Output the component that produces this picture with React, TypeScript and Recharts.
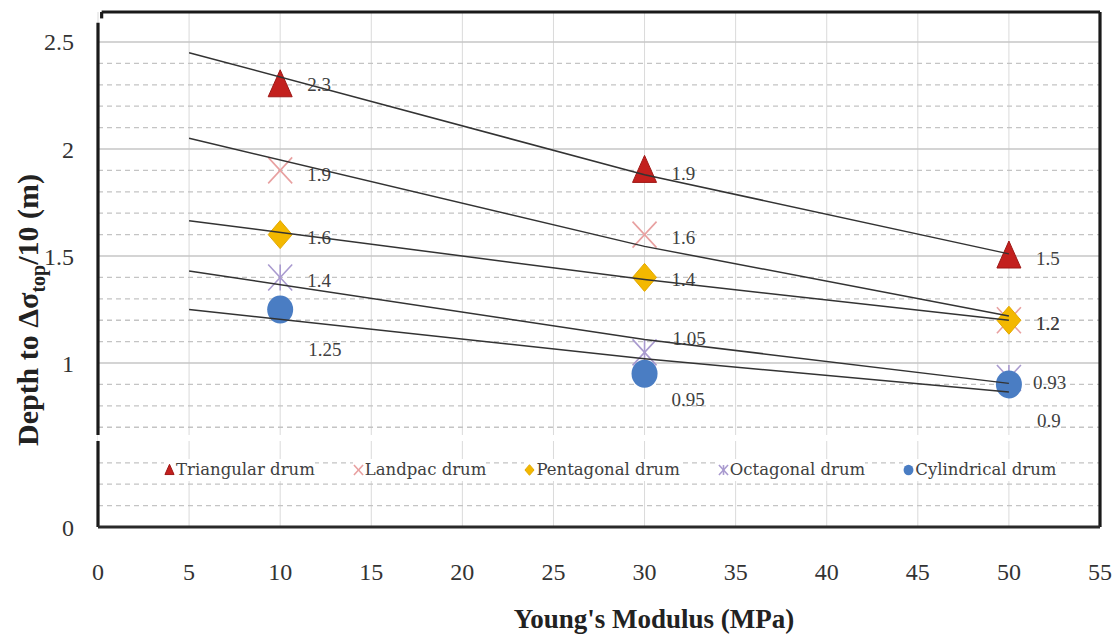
import React from 'react';
import {
  ScatterChart,
  Scatter,
  XAxis,
  YAxis,
  CartesianGrid,
  ReferenceLine,
  ReferenceArea,
  Legend,
  Label,
} from 'recharts';

// ---------- data ----------
const MODULUS = [10, 30, 50];
const SERIES_NAMES = ['Triangular drum', 'Landpac drum', 'Pentagonal drum', 'Octagonal drum', 'Cylindrical drum'];
const TRIANGULAR = [2.3, 1.9, 1.5];
const LANDPAC = [1.9, 1.6, 1.2];
const PENTAGONAL = [1.6, 1.4, 1.2];
const OCTAGONAL = [1.4, 1.05, 0.93];
const CYLINDRICAL = [1.25, 0.95, 0.9];

// trendlines (value at x = 5, 30, 50)
const TREND_X = [5, 30, 50];
const TREND_TRIANGULAR = [2.45, 1.88, 1.51];
const TREND_LANDPAC = [2.05, 1.545, 1.22];
const TREND_PENTAGONAL = [1.665, 1.39, 1.2];
const TREND_OCTAGONAL = [1.43, 1.11, 0.905];
const TREND_CYLINDRICAL = [1.25, 1.02, 0.865];

// axes
const X_TICKS = [0, 5, 10, 15, 20, 25, 30, 35, 40, 45, 50, 55];
const Y_ZERO_POS = 0.234; // where "0" sits below the axis break
const Y_TOP = 2.64;
const Y_TICKS = [Y_ZERO_POS, 1, 1.5, 2, 2.5];
const Y_MAJOR_GRID = [1, 1.5, 2, 2.5];
const Y_MINOR_GRID = [0.334, 0.434, 0.534, 0.7, 0.8, 0.9, 1.1, 1.2, 1.3, 1.4, 1.6, 1.7, 1.8, 1.9, 2.1, 2.2, 2.3, 2.4];
const BREAK_FROM = 0.636;
const BREAK_TO = 0.664;

// ---------- styles ----------
const SERIF = '"Liberation Serif", "Times New Roman", serif';
const COLORS = {
  tri: '#C3201E',
  landpac: '#E8A0A0',
  penta: '#F3B800',
  octa: '#A99ACF',
  cyl: '#4A7DC3',
};
// label offsets (dx, dy) per point, for each series
const LABEL_OFFSETS: Record<string, [number, number][]> = {
  tri: [[27, 0], [27, 3], [27, 2]],
  landpac: [[27, 4], [27, 3], [27, 3]],
  penta: [[27, 3], [27, 2], [27, 3]],
  octa: [[27, 3], [28, -14], [24, 4]],
  cyl: [[28, 40], [27, 26], [28, 36]],
};

const toPoints = (xs: number[], ys: number[]) => xs.map((x, i) => ({ x, y: ys[i], i }));

function Marker({ kind, cx, cy, s = 1 }: { kind: string; cx: number; cy: number; s?: number }) {
  switch (kind) {
    case 'tri':
      return (
        <polygon
          points={`${cx},${cy - 15 * s} ${cx + 12 * s},${cy + 12 * s} ${cx - 12 * s},${cy + 12 * s}`}
          fill={COLORS.tri}
          stroke="#9E1816"
          strokeWidth={1}
        />
      );
    case 'landpac':
      return (
        <g stroke={COLORS.landpac} strokeWidth={1.6}>
          <line x1={cx - 12 * s} y1={cy - 13 * s} x2={cx + 12 * s} y2={cy + 13 * s} />
          <line x1={cx - 12 * s} y1={cy + 13 * s} x2={cx + 12 * s} y2={cy - 13 * s} />
        </g>
      );
    case 'penta':
      return (
        <polygon
          points={`${cx},${cy - 14 * s} ${cx + 12 * s},${cy} ${cx},${cy + 14 * s} ${cx - 12 * s},${cy}`}
          fill={COLORS.penta}
          stroke="#E2A800"
          strokeWidth={1}
        />
      );
    case 'octa':
      return (
        <g stroke={COLORS.octa} strokeWidth={1.6}>
          <line x1={cx - 12 * s} y1={cy - 13 * s} x2={cx + 12 * s} y2={cy + 13 * s} />
          <line x1={cx - 12 * s} y1={cy + 13 * s} x2={cx + 12 * s} y2={cy - 13 * s} />
          <line x1={cx} y1={cy - 13 * s} x2={cx} y2={cy + 13 * s} />
        </g>
      );
    default:
      return <ellipse cx={cx} cy={cy} rx={13 * s} ry={14 * s} fill={COLORS.cyl} />;
  }
}

const makeShape = (kind: string) => (props: any) => {
  const { cx, cy, payload } = props;
  if (cx == null || cy == null) return <g />;
  const [dx, dy] = LABEL_OFFSETS[kind][payload.i] || [27, 3];
  return (
    <g>
      <Marker kind={kind} cx={cx} cy={cy} />
      <text x={cx + dx} y={cy + dy} dy="0.35em" fontFamily={SERIF} fontSize={19} fill="#404040">
        {String(payload.y)}
      </text>
    </g>
  );
};

const emptyShape = () => <g />;

const LEGEND_KINDS = ['tri', 'landpac', 'penta', 'octa', 'cyl'];

const renderLegend = () => (
  <div
    style={{
      display: 'flex',
      alignItems: 'center',
      fontFamily: '"DejaVu Serif", serif',
      fontSize: 16.5,
      color: '#404040',
      height: 24,
      whiteSpace: 'nowrap',
    }}
  >
    {SERIES_NAMES.map((n, i) => (
      <div
        key={n}
        style={{ display: 'flex', alignItems: 'center', background: '#fff', marginRight: 38, lineHeight: '22px' }}
      >
        <svg width={11} height={12} style={{ display: 'block' }}>
          <Marker kind={LEGEND_KINDS[i]} cx={5.5} cy={6} s={0.38} />
        </svg>
        <span style={{ marginLeft: 1 }}>{n}</span>
      </div>
    ))}
  </div>
);

const frame = { stroke: '#1a1a1a', strokeWidth: 3.2 };

export default function App() {
  const trendLine = { stroke: '#333', strokeWidth: 1.5 };
  return (
    <div style={{ position: 'absolute', left: 0, top: 0, background: '#fff' }}>
      <ScatterChart width={1118} height={640} margin={{ top: 12, right: 18, bottom: 0, left: 0 }}>
        <CartesianGrid horizontal={false} verticalValues={X_TICKS} stroke="#DADADA" strokeWidth={1} />
        <CartesianGrid vertical={false} horizontalValues={Y_MINOR_GRID} stroke="#C4C4C4" strokeWidth={1.3} strokeDasharray="5 4" />
        <CartesianGrid vertical={false} horizontalValues={Y_MAJOR_GRID} stroke="#C6C6C6" strokeWidth={1.6} />
        <XAxis
          type="number"
          dataKey="x"
          domain={[0, 55]}
          ticks={X_TICKS}
          interval={0}
          allowDataOverflow
          height={113}
          tickSize={0}
          tickMargin={36}
          tickLine={false}
          axisLine={{ stroke: '#2a2a2a', strokeWidth: 3.2 }}
          tick={{ fontSize: 24, fill: '#333', fontFamily: SERIF }}
        >
          <Label
            content={() => (
              <text x={654} y={628} textAnchor="middle" fontFamily={SERIF} fontWeight="bold" fontSize={27} fill="#222">
                Young's Modulus (MPa)
              </text>
            )}
          />
        </XAxis>
        <YAxis
          type="number"
          dataKey="y"
          domain={[Y_ZERO_POS, Y_TOP]}
          ticks={Y_TICKS}
          interval={0}
          allowDataOverflow
          width={98}
          tickSize={0}
          tickMargin={24}
          tickLine={false}
          axisLine={false}
          tickFormatter={(v: number) => (v < 0.5 ? '0' : String(v))}
          tick={{ fontSize: 24, fill: '#333', fontFamily: SERIF }}
        >
          <Label
            content={() => (
              <text
                transform="translate(38,310) rotate(-90)"
                textAnchor="middle"
                fontFamily={SERIF}
                fontWeight="bold"
                fontSize={30}
                fill="#222"
              >
                Depth to Δσ
                <tspan dy={7} fontSize={20}>
                  top
                </tspan>
                <tspan dy={-7}>/10 (m)</tspan>
              </text>
            )}
          />
        </YAxis>

        <ReferenceArea
          x1={0}
          x2={54.9}
          y1={BREAK_FROM}
          y2={BREAK_TO}
          fill="#fff"
          fillOpacity={1}
          stroke="none"
          ifOverflow="visible"
        />
        <ReferenceLine segment={[{ x: 0, y: Y_ZERO_POS }, { x: 0, y: BREAK_FROM }]} {...frame} ifOverflow="visible" />
        <ReferenceLine segment={[{ x: 0, y: BREAK_TO }, { x: 0, y: 2.59 }]} {...frame} ifOverflow="visible" />
        <ReferenceLine segment={[{ x: 0.2, y: Y_TOP }, { x: 55, y: Y_TOP }]} {...frame} ifOverflow="visible" />
        <ReferenceLine segment={[{ x: 0.2, y: Y_TOP }, { x: 0.2, y: 2.61 }]} {...frame} ifOverflow="visible" />
        <ReferenceLine segment={[{ x: 55, y: Y_ZERO_POS }, { x: 55, y: Y_TOP }]} {...frame} ifOverflow="visible" />

        <Scatter name={SERIES_NAMES[0]} data={toPoints(MODULUS, TRIANGULAR)} shape={makeShape('tri')} isAnimationActive={false} />
        <Scatter name={SERIES_NAMES[1]} data={toPoints(MODULUS, LANDPAC)} shape={makeShape('landpac')} isAnimationActive={false} />
        <Scatter name={SERIES_NAMES[2]} data={toPoints(MODULUS, PENTAGONAL)} shape={makeShape('penta')} isAnimationActive={false} />
        <Scatter name={SERIES_NAMES[3]} data={toPoints(MODULUS, OCTAGONAL)} shape={makeShape('octa')} isAnimationActive={false} />
        <Scatter name={SERIES_NAMES[4]} data={toPoints(MODULUS, CYLINDRICAL)} shape={makeShape('cyl')} isAnimationActive={false} />

        <Scatter data={toPoints(TREND_X, TREND_TRIANGULAR)} line={trendLine} shape={emptyShape} legendType="none" isAnimationActive={false} />
        <Scatter data={toPoints(TREND_X, TREND_LANDPAC)} line={trendLine} shape={emptyShape} legendType="none" isAnimationActive={false} />
        <Scatter data={toPoints(TREND_X, TREND_PENTAGONAL)} line={trendLine} shape={emptyShape} legendType="none" isAnimationActive={false} />
        <Scatter data={toPoints(TREND_X, TREND_OCTAGONAL)} line={trendLine} shape={emptyShape} legendType="none" isAnimationActive={false} />
        <Scatter data={toPoints(TREND_X, TREND_CYLINDRICAL)} line={trendLine} shape={emptyShape} legendType="none" isAnimationActive={false} />

        <Legend
          verticalAlign="middle"
          align="center"
          layout="horizontal"
          content={renderLegend}
          wrapperStyle={{ position: 'absolute', top: 458, left: 164, width: 950, height: 24 }}
        />
      </ScatterChart>
    </div>
  );
}
